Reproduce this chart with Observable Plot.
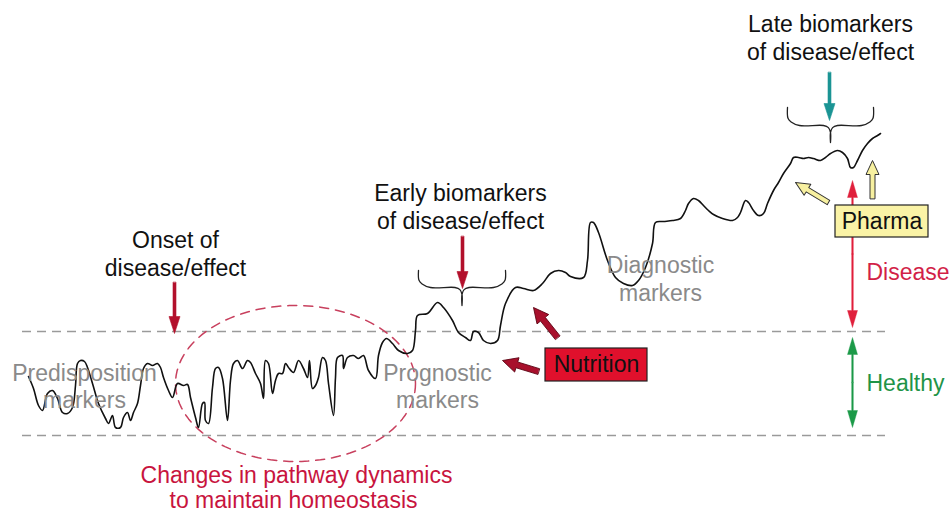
<!DOCTYPE html>
<html><head><meta charset="utf-8">
<script src="https://cdn.jsdelivr.net/npm/d3@7"></script>
<script src="https://cdn.jsdelivr.net/npm/@observablehq/plot@0.6"></script>
<style>html,body{margin:0;padding:0;background:#fff;} svg{display:block;}</style>
</head><body><div id="chart"></div>
<script>
// ---- traced biomarker trajectory (diagram units = pixels) ----
const curveX = [28,33,38,42,47,52,57,62,67,72,75,77,80,84,87,92,98,105,108,112,115,120,123,127,130,133,137,140,143,147,152,157,160,163,168,172,177,183,187,190,195,198,202,204,205,208,212,215,218,222,227,230,233,237,242,247,250,255,260,263,265,268,272,275,278,282,285,288,293,298,303,307,309,312,315,318,322,325,328,333,335,337,342,343,347,353,358,363,368,375,378,382,386,392,398,407,412,415,417,427,437,443,452,458,465,470,473,478,483,490,497,500,505,515,523,533,542,550,558,565,570,583,587,590,593,598,607,615,623,632,638,645,652,655,663,672,680,685,688,693,698,703,708,713,722,732,737,740,745,748,753,758,763,767,773,778,783,790,793,798,803,808,813,820,825,830,837,842,847,850,853,857,862,867,872,877,880];
const curveY = [376,388,405,410,393,390,398,412,413,407,385,363,360,361,367,383,403,418,423,415,427,427,417,412,420,412,403,385,368,363,365,363,367,377,390,397,383,385,384,397,417,427,403,402,420,423,387,368,367,378,420,380,363,360,368,360,362,373,383,398,360,363,393,380,373,373,363,367,372,360,368,377,360,388,385,377,357,360,383,415,377,357,355,368,357,355,358,355,370,378,355,342,338,343,350,353,350,330,315,313,302,307,320,332,337,340,331,332,340,343,340,325,303,287,288,290,283,273,270,272,276,277,260,222,222,232,260,277,283,285,280,267,243,222,221,220,218,210,203,198,200,205,210,214,218,220,217,212,200,202,210,215,213,203,190,182,173,163,157,157,158,157,158,160,157,153,150,152,158,167,167,160,150,143,138,135,133];

// ---- threshold levels (healthy band) ----
const thresholdLevels = [331, 435];

// ---- text labels ----
const blackLabels = ["Late biomarkers", "of disease/effect", "Early biomarkers", "of disease/effect", "Onset of", "disease/effect"];
const grayLabels = ["Predisposition", "markers", "Prognostic", "markers", "Diagnostic", "markers"];
const crimsonLabels = ["Changes in pathway dynamics", "to maintain homeostasis"];
const boxLabels = ["Nutrition", "Pharma"];
const sideLabels = ["Disease", "Healthy"];

// ---- layout (positions) ----
const L = {
  black: [[830,24],[830,52],[460,193],[460,221],[175,240],[175,268]],
  gray: [[84,373],[84,400],[437,373],[437,400],[660,265],[660,293]],
  crimson: [[296,475],[293,500]],
  boxes: [{x1:545,x2:647,y1:348,y2:381,fill:"#e0102c"},{x1:835,x2:928,y1:205,y2:237,fill:"#faf3a6"}],
  side: [[866,272,"#d21f48"],[866,383,"#1f9448"]],
  ellipse: {cx:295, cy:383, rx:120, ry:78},
  braces: [[787,873,107,125,142],[418,505,270,287,305]],
  thinArrows: [[829,72,829,120,"#1b9494"],[462,236,462,288,"#b3102c"],[174,282,174,333,"#b3102c"]],
  doubleArrows: [[852,180,852,327,"#e0203c"],[852,337,852,427,"#1c9a48"]],
  nutritionArrows: [[538,371,502,360],[557,337,533,307]],
  pharmaArrows: [[828,202,795,182],[872,198,872,160]]
};

function vec([x1,y1,x2,y2,c]) {
  const dx = x2-x1, dy = y2-y1;
  return {x:x1, y:y1, len:Math.hypot(dx,dy), rot:Math.atan2(dx,-dy)*180/Math.PI, c};
}
function blockArrow(w, hw, hl) {
  return {draw(ctx, l) {
    const h = Math.min(hl, l);
    ctx.moveTo(-w/2, 0);
    ctx.lineTo(-w/2, -l + h);
    ctx.lineTo(-hw/2, -l + h);
    ctx.lineTo(0, -l);
    ctx.lineTo(hw/2, -l + h);
    ctx.lineTo(w/2, -l + h);
    ctx.lineTo(w/2, 0);
    ctx.closePath();
  }};
}
const thinV = L.thinArrows.map(vec);
const dblV = L.doubleArrows.flatMap(([x1,y1,x2,y2,c]) => {
  const my = (y1+y2)/2;
  return [vec([x1,my,x1,y1,c]), vec([x1,my,x2,y2,c])];
});
const nutV = L.nutritionArrows.map(vec);
const phV = L.pharmaArrows.map(vec);

// ellipse outline (shape)
const ell = d3.range(0, 361, 3).map(a => ({x: L.ellipse.cx + L.ellipse.rx*Math.cos(a*Math.PI/180), y: L.ellipse.cy + L.ellipse.ry*Math.sin(a*Math.PI/180)}));
// braces (shape)
function brace([x1,x2,yt,ym,yb], id) {
  const xm = (x1+x2)/2, r = 12, r2 = 7;
  const pts = [[x1,yt],[x1+0.5,ym-r*0.6],[x1+r*0.3,ym-r*0.3],[x1+r,ym],[xm-r2,ym],[xm-r2*0.3,ym+r2*0.3],[xm,ym+r2],[xm,yb]];
  const right = pts.slice(0,-1).reverse().map(([x,y]) => [2*xm - x, y]);
  return pts.concat(right).map(([x,y]) => ({x,y,id}));
}
const braceData = L.braces.flatMap((b,i) => brace(b,i));

const curve = curveX.map((x,i) => ({x, y: curveY[i]}));
const font = "'Liberation Sans', Arial, Helvetica, sans-serif";
const fs = 23;

const chart = Plot.plot({
  width: 949, height: 514, margin: 0,
  x: {domain: [0, 949], axis: null},
  y: {domain: [514, 0], axis: null},
  length: {type: "linear", domain: [0, 1000], range: [0, 1000]},
  style: {fontFamily: font, background: "#fff"},
  marks: [
    Plot.ruleY(thresholdLevels, {x1: 22, x2: 885, stroke: "#9a9a9a", strokeWidth: 1.3, strokeDasharray: "9,6"}),
    Plot.line(ell, {x: "x", y: "y", stroke: "#c8405e", strokeWidth: 1.5, strokeDasharray: "9,7"}),
    Plot.line(curve, {x: "x", y: "y", stroke: "#111", strokeWidth: 1.6, curve: "catmull-rom"}),
    Plot.line(braceData, {x: "x", y: "y", z: "id", stroke: "#222", strokeWidth: 1.3, curve: "catmull-rom"}),
    Plot.text(grayLabels, {x: (d,i) => L.gray[i][0], y: (d,i) => L.gray[i][1], text: d => d, fill: "#8a8a8a", fontSize: fs}),
    Plot.text(blackLabels, {x: (d,i) => L.black[i][0], y: (d,i) => L.black[i][1], text: d => d, fill: "#111", fontSize: fs}),
    Plot.text(crimsonLabels, {x: (d,i) => L.crimson[i][0], y: (d,i) => L.crimson[i][1], text: d => d, fill: "#c8143e", fontSize: fs}),
    Plot.text(sideLabels, {x: (d,i) => L.side[i][0], y: (d,i) => L.side[i][1], text: d => d, fill: (d,i) => L.side[i][2], textAnchor: "start", fontSize: fs}),
    Plot.vector(thinV, {x: "x", y: "y", length: "len", rotate: "rot", anchor: "start", shape: blockArrow(3, 11, 17), fill: "c", stroke: "c", strokeWidth: 0.6}),
    Plot.vector(dblV, {x: "x", y: "y", length: "len", rotate: "rot", anchor: "start", shape: blockArrow(1.6, 10, 17), fill: "c", stroke: "c", strokeWidth: 0.4}),
    Plot.vector(nutV, {x: "x", y: "y", length: "len", rotate: "rot", anchor: "start", shape: blockArrow(6, 15, 15), fill: "#a8102c", stroke: "#5a0010", strokeWidth: 0.8}),
    Plot.vector(phV, {x: "x", y: "y", length: "len", rotate: "rot", anchor: "start", shape: blockArrow(5, 13, 14), fill: "#f7f0a0", stroke: "#333", strokeWidth: 1}),
    Plot.rect(L.boxes, {x1: "x1", x2: "x2", y1: "y1", y2: "y2", fill: "fill", stroke: "#222", strokeWidth: 1.2}),
    Plot.text(boxLabels, {x: (d,i) => (L.boxes[i].x1 + L.boxes[i].x2)/2, y: (d,i) => (L.boxes[i].y1 + L.boxes[i].y2)/2, text: d => d, fill: "#111", fontSize: fs})
  ]
});
document.getElementById("chart").append(chart);
</script>
</body></html>
